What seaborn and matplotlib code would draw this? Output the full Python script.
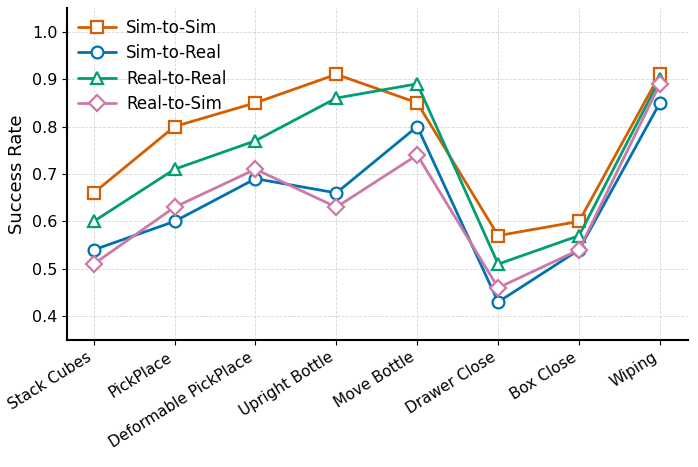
import numpy as np
import pandas as pd
import seaborn as sns
import matplotlib
matplotlib.use("Agg")
import matplotlib.pyplot as plt

tasks = ["Stack Cubes", "PickPlace", "Deformable PickPlace", "Upright Bottle",
         "Move Bottle", "Drawer Close", "Box Close", "Wiping"]
sim_to_sim = [0.66, 0.80, 0.85, 0.91, 0.85, 0.57, 0.60, 0.91]
sim_to_real = [0.54, 0.60, 0.69, 0.66, 0.80, 0.43, 0.54, 0.85]
real_to_real = [0.60, 0.71, 0.77, 0.86, 0.89, 0.51, 0.57, 0.90]
real_to_sim = [0.51, 0.63, 0.71, 0.63, 0.74, 0.46, 0.54, 0.89]

series = {
    "Sim-to-Sim": (sim_to_sim, "s", "#D55E00"),
    "Sim-to-Real": (sim_to_real, "o", "#0072B2"),
    "Real-to-Real": (real_to_real, "^", "#009E73"),
    "Real-to-Sim": (real_to_sim, "D", "#CC79A7"),
}

sns.set_style("ticks")
plt.rcParams["font.family"] = ["DejaVu Sans"]
plt.rcParams["text.color"] = "black"
plt.rcParams["axes.labelcolor"] = "black"
plt.rcParams["xtick.color"] = "black"
plt.rcParams["ytick.color"] = "black"

fig, ax = plt.subplots(figsize=(6.98, 4.67), dpi=100)
x = np.arange(len(tasks))
for name, (vals, marker, color) in series.items():
    df = pd.DataFrame({"x": x, "y": vals})
    sns.lineplot(data=df, x="x", y="y", ax=ax, color=color, marker=marker,
                 markersize=8.5, markerfacecolor="white", markeredgecolor=color,
                 markeredgewidth=1.6, linewidth=2, label=name)

ax.set_xticks(x)
ax.set_xticklabels(tasks, rotation=32, ha="right", fontsize=11)
ax.set_xlim(-0.33, 7.35)
ax.set_ylim(0.35, 1.05)
ax.set_yticks([0.4, 0.5, 0.6, 0.7, 0.8, 0.9, 1.0])
ax.tick_params(axis="y", labelsize=11.5)
ax.set_xlabel("")
ax.set_ylabel("Success Rate", fontsize=13)
ax.grid(True, linestyle="--", linewidth=0.6, color="#cccccc", alpha=0.8)
sns.despine(ax=ax)
for sp in ["left", "bottom"]:
    ax.spines[sp].set_linewidth(1.5)
    ax.spines[sp].set_color("black")
ax.legend(loc="upper left", frameon=False, fontsize=12, labelspacing=0.45,
          handlelength=2.3, handletextpad=0.6, borderaxespad=0.25)

fig.subplots_adjust(left=0.096, right=0.986, top=0.983, bottom=0.272)
plt.savefig("out.png", dpi=100)
